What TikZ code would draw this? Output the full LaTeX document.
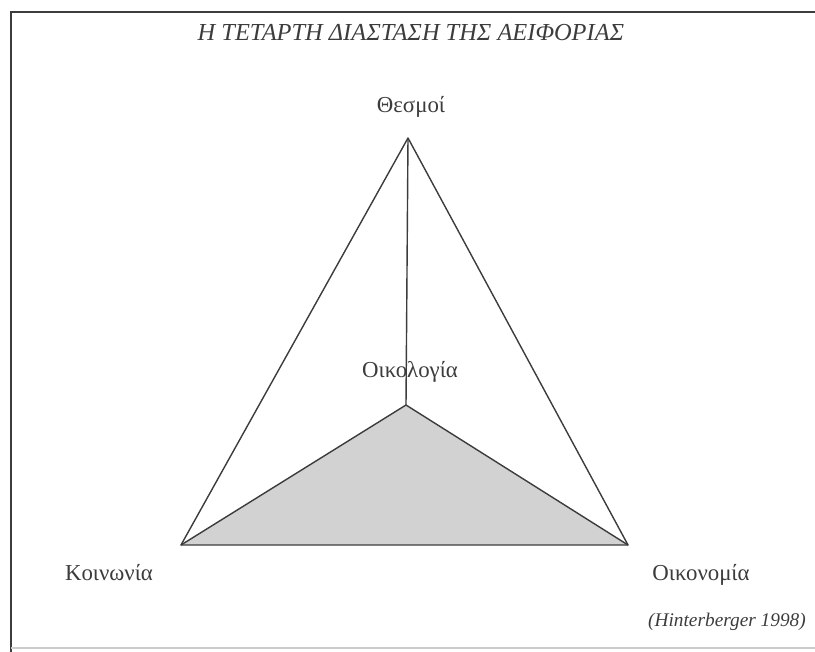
\documentclass[tikz,border=0pt]{standalone}
\usepackage{fontspec}
\setmainfont{Liberation Serif}
\usetikzlibrary{positioning}
\definecolor{inkgray}{RGB}{60,60,60}
\definecolor{shadegray}{RGB}{210,210,210}

\begin{document}
\begin{tikzpicture}[x=0.02cm, y=-0.02cm,
  edge/.style={inkgray, line width=0.8pt, line join=round},
  lbl/.style={font=\fontsize{13}{15}\selectfont, text=inkgray, inner sep=0pt}]
  \useasboundingbox (0,0) rectangle (815,652);

  % πλαίσιο
  \draw[inkgray, line width=0.9pt] (815,12) -- (11,12) -- (11,652);
  \draw[gray!40, line width=0.6pt] (11,648) -- (815,648);

  % τίτλος
  \node[lbl, font=\fontsize{13.9}{16}\selectfont\itshape] (title) at (411,33) {Η ΤΕΤΑΡΤΗ ΔΙΑΣΤΑΣΗ ΤΗΣ ΑΕΙΦΟΡΙΑΣ};

  % κορυφές
  \coordinate (apex) at (408,138);
  \coordinate (inner) at (406,405);
  \coordinate (left) at (181,545);
  \coordinate (right) at (628,545);

  % ετικέτες
  \node[lbl] (thesmoi) at (411,107) {Θεσμοί};
  \node[lbl] (oikologia) at (410,372) {Οικολογία};
  \node[lbl] (koinonia) at (109,573) {Κοινωνία};
  \node[lbl] (oikonomia) at (701,575) {Οικονομία};
  \node[lbl, font=\fontsize{11}{13}\selectfont\itshape] (source) at (727,622) {(Hinterberger 1998)};

  % σκιασμένη βάση
  \fill[shadegray] (left) -- (inner) -- (right) -- cycle;

  % ακμές
  \draw[edge] (left) -- (apex) -- (right) -- cycle;
  \draw[edge] (apex) -- (inner);
  \draw[edge] (left) -- (inner) -- (right);
\end{tikzpicture}
\end{document}
